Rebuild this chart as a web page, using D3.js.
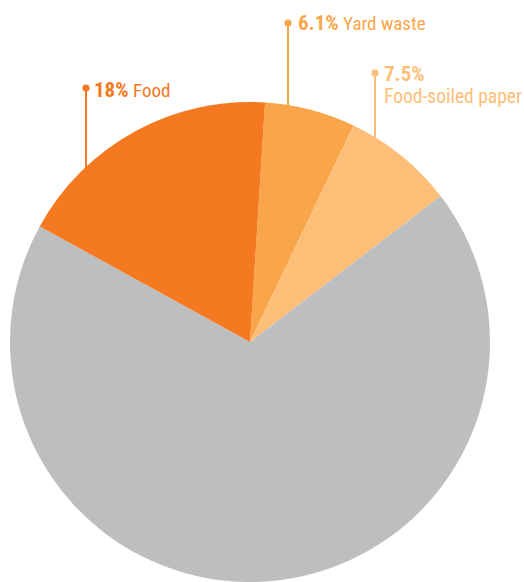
<!DOCTYPE html>
<html><head><meta charset="utf-8">
<script src="https://cdn.jsdelivr.net/npm/d3@7"></script>
<style>body{margin:0;background:#fff}svg{display:block}text{font-family:"Liberation Sans Narrow","Arial Narrow","Roboto Condensed","Liberation Sans",sans-serif}</style>
</head><body><svg id="c" width="524" height="582"></svg>
<script>
const categories = ["Yard waste","Food-soiled paper","Other","Food"];
const values = [6.1, 7.5, 68.4, 18];
const labels = ["6.1%","7.5%","","18%"];
const colors = ["#F9A64A","#FDBE78","#BCBEC0","#F47920"];

const W=524,H=582,cx=250,cy=342,r=240;
const svg=d3.select("#c");
const startDeg=3.6;
const pie=d3.pie().sort(null).value(d=>d).startAngle(startDeg*Math.PI/180).endAngle((startDeg+360)*Math.PI/180);
const arcs=pie(values);
const arc=d3.arc().innerRadius(0).outerRadius(r);
const g=svg.append("g").attr("transform",`translate(${cx},${cy})`);

const leaders=[
 {i:3,x:86,y:88,tx:94,ty:97,two:false},
 {i:0,x:288,y:23,tx:298,ty:30,two:false},
 {i:1,x:375,y:73,tx:384,ty:81,two:true}
];
leaders.forEach(L=>{
  const yEdge=cy-Math.sqrt(r*r-(L.x-cx)*(L.x-cx));
  svg.append("line").attr("x1",L.x).attr("x2",L.x).attr("y1",L.y).attr("y2",yEdge+4)
    .attr("stroke",colors[L.i]).attr("stroke-width",2);
  svg.append("circle").attr("cx",L.x).attr("cy",L.y).attr("r",3.6).attr("fill",colors[L.i]);
  const t=svg.append("text").attr("x",L.tx).attr("y",L.ty).attr("fill",colors[L.i]).attr("font-size",19);
  t.append("tspan").attr("font-weight","bold").attr("font-size",21).text(labels[L.i]);
  if(L.two){
    svg.append("text").attr("x",L.tx).attr("y",L.ty+22).attr("fill",colors[L.i]).attr("font-size",19.5).text(categories[L.i]);
  } else {
    t.append("tspan").text(" "+categories[L.i]);
  }
});

g.selectAll("path").data(arcs).join("path").attr("d",arc).attr("fill",(d,i)=>colors[i]);
</script></body></html>
